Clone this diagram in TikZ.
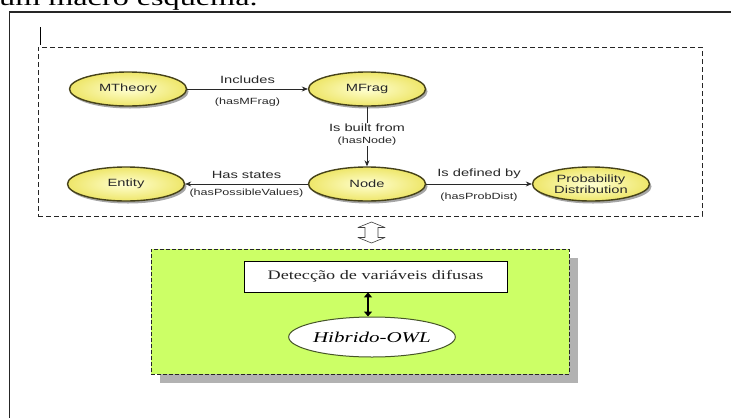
\documentclass[tikz,border=0pt]{standalone}
\usepackage{fontspec}
\setmainfont{Liberation Serif}
\newfontfamily\sansw[FakeStretch=1.4]{Liberation Sans}
\newfontfamily\serifw[FakeStretch=1.4]{Liberation Serif}
\usetikzlibrary{shapes.geometric,arrows.meta,shadows}
\definecolor{ontoborder}{RGB}{70,66,25}
\definecolor{ontoin}{RGB}{255,255,210}
\definecolor{ontoout}{RGB}{238,230,105}
\definecolor{txtgray}{RGB}{40,40,40}
\definecolor{limegreen}{RGB}{204,255,102}
\definecolor{shadowgray}{RGB}{178,178,178}
\definecolor{owlborder}{RGB}{70,85,40}
\begin{document}
\begin{tikzpicture}[x=1pt,y=-1pt,
  onto/.style={ellipse, draw=ontoborder, line width=1.4pt, inner color=ontoin,
    outer color=ontoout, minimum width=117pt, minimum height=34pt, inner sep=0pt,
    align=center, text=txtgray, font=\sansw\fontsize{10.5}{11}\selectfont,
    drop shadow={shadow xshift=2pt, shadow yshift=-2.5pt, fill=black, opacity=0.35}},
  rel/.style={draw=txtgray, line width=0.7pt, -{Stealth[length=6pt,width=5pt]}},
  lbl/.style={font=\sansw\fontsize{10.5}{11}\selectfont, text=txtgray, inner sep=1pt},
  sublbl/.style={font=\sansw\fontsize{9}{10}\selectfont, text=txtgray, inner sep=1pt},
  dashbox/.style={draw=black!85, line width=0.9pt, dash pattern=on 5pt off 3pt, inner sep=0pt},
  greenbox/.style={draw=black!85, line width=0.8pt, dash pattern=on 4pt off 2pt,
    fill=limegreen, inner sep=0pt,
    drop shadow={shadow xshift=9pt, shadow yshift=-9pt, fill=shadowgray, opacity=1}},
  detbox/.style={draw=black, line width=0.8pt, fill=white, inner sep=0pt,
    text=black!85, font=\serifw\fontsize{13}{14}\selectfont},
  owl/.style={ellipse, draw=owlborder, line width=1pt, fill=white, inner sep=0pt,
    font=\serifw\itshape\fontsize{15}{16}\selectfont}
]
\useasboundingbox (0,0) rectangle (731,418);
\fill[white] (0,0) rectangle (731,418);

% cropped heading text (cut off at the top edge, as in the reference)
\begin{scope}
  \clip (0,0) rectangle (731,11);
  \node[anchor=base west, inner sep=0pt, font=\serifw\fontsize{23}{24}\selectfont] (ttl) at (-1,5.5) {um macro esquema.};
\end{scope}

% outer frame (open to right and bottom)
\draw[line width=1.1pt, black!85] (9.5,418) -- (9.5,12) -- (731,12);
% text cursor
\draw[line width=1pt] (40.5,27) -- (40.5,45);

% upper dashed box
\node[dashbox, minimum width=664pt, minimum height=169pt] (upbox) at (370,131.5) {};

% ontology nodes
\node[onto] (mth) at (128,89) {MTheory};
\node[onto] (mfr) at (367,89) {MFrag};
\node[onto] (ent) at (126,184) {Entity};
\node[onto] (nod) at (367,184) {Node};
\node[onto] (pd) at (591,184) {Probability\\Distribution};

\draw[rel] (mth) -- node[lbl, above=4pt] {Includes} node[sublbl, below=7.5pt] {(hasMFrag)} (mfr);
\draw[rel] (mfr) -- node[fill=white, inner sep=1pt, align=center, text=txtgray, yshift=2pt,
   font=\sansw\fontsize{9}{12.5}\selectfont]
   {{\fontsize{10.5}{12.5}\selectfont Is built from}\\(hasNode)} (nod);
\draw[rel] (nod) -- node[lbl, above=4pt] {Has states} node[sublbl, below=4pt] {(hasPossibleValues)} (ent);
\draw[rel] (nod) -- node[lbl, above=4pt] {Is defined by} node[sublbl, below=7.5pt] {(hasProbDist)} (pd);

% hollow up-down arrow
\draw[line width=0.6pt, black!75, fill=white, line join=round]
  (371.5,222) -- (385,227.5) -- (378,227.5) -- (378,237.5) -- (385,237.5) -- (371.5,243)
  -- (358,237.5) -- (365,237.5) -- (365,227.5) -- (358,227.5) -- cycle;

% lower green box
\node[greenbox, minimum width=418pt, minimum height=125pt] (grn) at (360,311.5) {};
\node[detbox, minimum width=263pt, minimum height=31pt] (det) at (375.5,276.5) {Detecção de variáveis difusas};
\node[owl, minimum width=155pt, minimum height=40pt] (hib) at (372,337) {Hibrido-OWL};
\draw[line width=1.6pt, black, {Triangle[length=5pt,width=8pt]}-{Triangle[length=5pt,width=8pt]}]
  ([xshift=-7.5pt]det.south) -- ([xshift=-4pt]hib.north);
\end{tikzpicture}
\end{document}
